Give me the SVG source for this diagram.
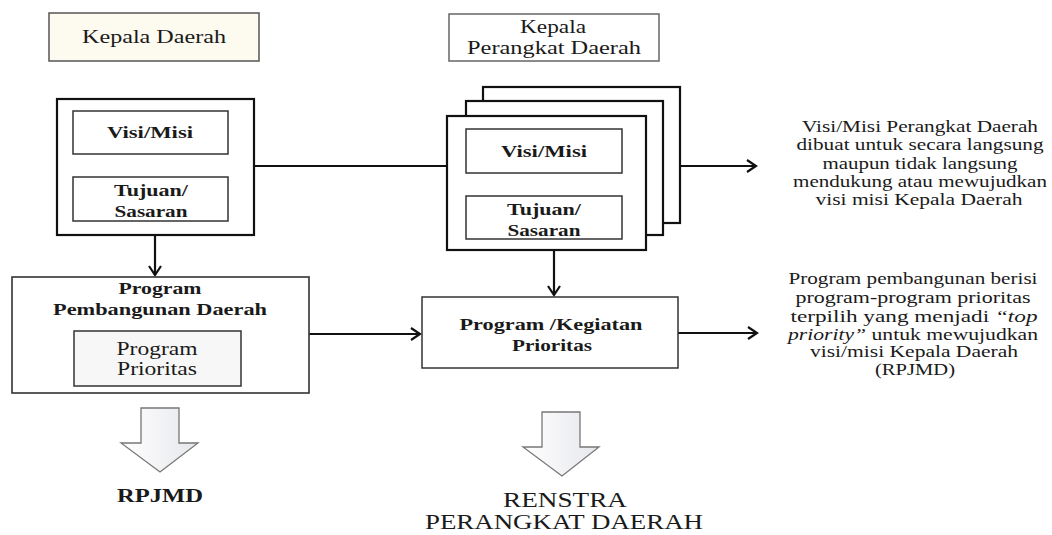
<svg xmlns="http://www.w3.org/2000/svg" width="1052" height="535" viewBox="0 0 1052 535">
<style>
text{font-family:"Liberation Serif","Times New Roman",serif;fill:#1a1a1a;text-anchor:middle}
.b{font-weight:bold}
.hdr{fill:#fdfaf0;stroke:#555;stroke-width:1.5}
.hdr2{fill:#fff;stroke:#666;stroke-width:1.5}
.outer{fill:#fff;stroke:#111;stroke-width:2.2}
.inner{fill:#fff;stroke:#333;stroke-width:1.5}
.ln{fill:none;stroke:#111;stroke-width:2.2}
.blk{fill:url(#g);stroke:#777;stroke-width:1.3}
</style>
<defs>
<marker id="ah" markerUnits="userSpaceOnUse" markerWidth="16" markerHeight="16" refX="10" refY="8" orient="auto">
<polyline points="1,2 10,8 1,14" fill="none" stroke="#111" stroke-width="2.2"/>
</marker>
<linearGradient id="g" x1="0" y1="0" x2="1" y2="0">
<stop offset="0" stop-color="#ffffff"/>
<stop offset="1" stop-color="#e6e7ec"/>
</linearGradient>
</defs>
<rect width="1052" height="535" fill="#fff"/>

<g id="connectors">
<line class="ln" x1="254" y1="166" x2="447" y2="166"/>
<line class="ln" x1="680" y1="166" x2="756" y2="166" marker-end="url(#ah)"/>
<line class="ln" x1="155" y1="235" x2="155" y2="275" marker-end="url(#ah)"/>
<line class="ln" x1="554" y1="250" x2="554" y2="295" marker-end="url(#ah)"/>
<line class="ln" x1="309" y1="334" x2="420" y2="334" marker-end="url(#ah)"/>
<line class="ln" x1="678" y1="333" x2="757" y2="333" marker-end="url(#ah)"/>
<polygon class="blk" points="141,408 179,408 179,443 198,443 160,472 121,443 141,443"/>
<polygon class="blk" points="542,412 580,412 580,447 599,447 562,476 523,447 542,447"/>
</g>

<g id="kepala-daerah">
<rect class="hdr" x="49" y="13" width="210" height="48"/>
<text x="154" y="43" font-size="18" textLength="144" lengthAdjust="spacingAndGlyphs">Kepala Daerah</text>
</g>

<g id="kepala-perangkat-daerah">
<rect class="hdr2" x="449" y="14" width="210" height="47"/>
<text x="553" y="33" font-size="18" textLength="66" lengthAdjust="spacingAndGlyphs">Kepala</text>
<text x="554" y="54" font-size="18" textLength="174" lengthAdjust="spacingAndGlyphs">Perangkat Daerah</text>
</g>

<g id="visi-misi-kd">
<rect class="outer" x="57" y="99" width="197" height="136"/>
<rect class="inner" x="73" y="111" width="155" height="43"/>
<text class="b" x="150" y="138" font-size="17" textLength="86" lengthAdjust="spacingAndGlyphs">Visi/Misi</text>
<rect class="inner" x="73" y="177" width="155" height="44"/>
<text class="b" x="151" y="196" font-size="17" textLength="74" lengthAdjust="spacingAndGlyphs">Tujuan/</text>
<text class="b" x="151" y="217" font-size="17" textLength="73" lengthAdjust="spacingAndGlyphs">Sasaran</text>
</g>

<g id="visi-misi-pd">
<rect class="outer" x="483" y="87" width="197" height="136"/>
<rect class="outer" x="466" y="101" width="197" height="134"/>
<rect class="outer" x="447" y="116" width="199" height="134"/>
<rect class="inner" x="466" y="129" width="156" height="44"/>
<text class="b" x="544" y="157" font-size="17" textLength="86" lengthAdjust="spacingAndGlyphs">Visi/Misi</text>
<rect class="inner" x="466" y="196" width="156" height="43"/>
<text class="b" x="544" y="215" font-size="17" textLength="74" lengthAdjust="spacingAndGlyphs">Tujuan/</text>
<text class="b" x="544" y="236" font-size="17" textLength="73" lengthAdjust="spacingAndGlyphs">Sasaran</text>
</g>

<g id="program-pembangunan">
<rect x="12" y="277" width="297" height="116" fill="#fff" stroke="#333" stroke-width="1.6"/>
<text class="b" x="160" y="294" font-size="17" textLength="83" lengthAdjust="spacingAndGlyphs">Program</text>
<text class="b" x="160" y="315" font-size="17" textLength="214" lengthAdjust="spacingAndGlyphs">Pembangunan Daerah</text>
<rect x="74" y="331" width="167" height="55" fill="#f7f7f7" stroke="#333" stroke-width="1.5"/>
<text x="157" y="355" font-size="18" textLength="81" lengthAdjust="spacingAndGlyphs">Program</text>
<text x="157" y="375" font-size="18" textLength="80" lengthAdjust="spacingAndGlyphs">Prioritas</text>
</g>

<g id="program-kegiatan">
<rect class="inner" x="422" y="297" width="256" height="71"/>
<text class="b" x="551" y="330" font-size="17" textLength="183" lengthAdjust="spacingAndGlyphs">Program /Kegiatan</text>
<text class="b" x="552" y="351" font-size="17" textLength="80" lengthAdjust="spacingAndGlyphs">Prioritas</text>
</g>

<g id="note-visi">
<text x="920" y="132" font-size="17" textLength="236" lengthAdjust="spacingAndGlyphs">Visi/Misi Perangkat Daerah</text>
<text x="920" y="150" font-size="17" textLength="247" lengthAdjust="spacingAndGlyphs">dibuat untuk secara langsung</text>
<text x="920" y="169" font-size="17" textLength="195" lengthAdjust="spacingAndGlyphs">maupun tidak langsung</text>
<text x="920" y="187" font-size="17" textLength="254" lengthAdjust="spacingAndGlyphs">mendukung atau mewujudkan</text>
<text x="919" y="205" font-size="17" textLength="207" lengthAdjust="spacingAndGlyphs">visi misi Kepala Daerah</text>
</g>

<g id="note-program">
<text x="913" y="284" font-size="16.5" textLength="249" lengthAdjust="spacingAndGlyphs">Program pembangunan berisi</text>
<text x="913" y="303" font-size="16.5" textLength="235" lengthAdjust="spacingAndGlyphs">program-program prioritas</text>
<text x="914" y="322" font-size="16.5" textLength="247" lengthAdjust="spacingAndGlyphs">terpilih yang menjadi <tspan font-style="italic">“top</tspan></text>
<text x="913" y="340" font-size="16.5" textLength="250" lengthAdjust="spacingAndGlyphs"><tspan font-style="italic">priority”</tspan> untuk mewujudkan</text>
<text x="914" y="357" font-size="16.5" textLength="208" lengthAdjust="spacingAndGlyphs">visi/misi Kepala Daerah</text>
<text x="915" y="375" font-size="16.5" textLength="80" lengthAdjust="spacingAndGlyphs">(RPJMD)</text>
</g>

<g id="rpjmd">
<text class="b" x="160" y="502" font-size="18" textLength="86" lengthAdjust="spacingAndGlyphs">RPJMD</text>
</g>

<g id="renstra">
<text x="565" y="507" font-size="21" textLength="124" lengthAdjust="spacingAndGlyphs">RENSTRA</text>
<text x="564" y="529" font-size="21" textLength="278" lengthAdjust="spacingAndGlyphs">PERANGKAT DAERAH</text>
</g>
</svg>
